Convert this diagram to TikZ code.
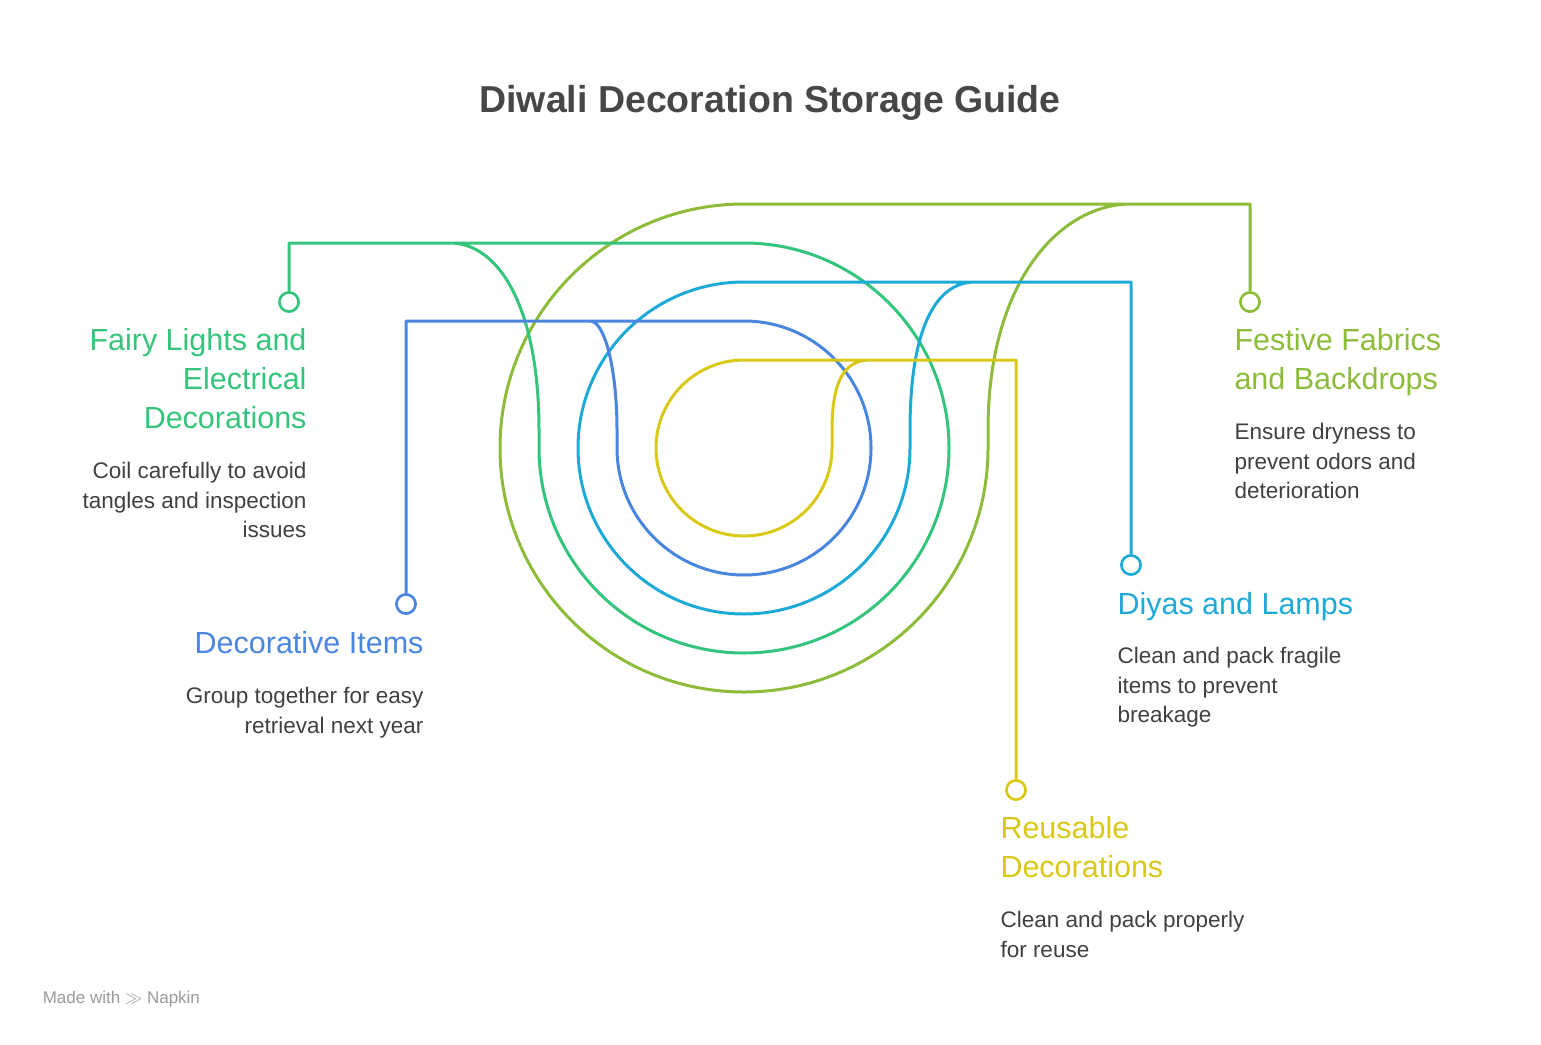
\documentclass[tikz,border=0pt]{standalone}
\usepackage{fontspec}
\setmainfont{Liberation Sans}
\begin{document}
\begin{tikzpicture}[x=1pt,y=-1pt,line width=3pt,
  mk/.style={circle,draw,fill=white,line width=2.5pt,minimum size=19pt,inner sep=0pt},
  hd/.style={font=\fontsize{30.5}{39}\selectfont,inner sep=0pt},
  bd/.style={font=\fontsize{22.5}{29.5}\selectfont,text=black!75,inner sep=0pt}]
\definecolor{cg}{HTML}{35C47C}\definecolor{cb}{HTML}{4A86E0}
\definecolor{cc}{HTML}{1EAAD6}\definecolor{cy}{HTML}{D9C818}
\definecolor{co}{HTML}{8DBB3A}
\useasboundingbox (0,0) rectangle (1541,1044);
\node[font=\bfseries\fontsize{37.5}{40}\selectfont,text=black!72] (t) at (770,103) {Diwali Decoration Storage Guide};
\node[mk,draw=co] (mo) at (1250,302) {};
\node[mk,draw=cg] (mg) at (289,302) {};
\node[mk,draw=cc] (mc) at (1131,565) {};
\node[mk,draw=cb] (mb) at (406,604) {};
\node[mk,draw=cy] (my) at (1016,790) {};
\begin{scope}[line join=round]
\draw[co] (mo.north) -- (1250,204) -- (744,204) arc[start angle=-90,end angle=-360,radius=244] -- ++(0,-18) .. controls +(0,-150) and +(-70,0) .. (1131,204);
\draw[cg] (mg.north) -- (289,243) -- (744,243) arc[start angle=-90,end angle=180,radius=205] -- ++(0,-18) .. controls +(0,-120) and +(50,0) .. (450,243);
\draw[cc] (mc.north) -- (1131,282) -- (744,282) arc[start angle=-90,end angle=-360,radius=166] -- ++(0,-18) .. controls +(0,-100) and +(-40,0) .. (975,282);
\draw[cb] (mb.north) -- (406,321) -- (744,321) arc[start angle=-90,end angle=180,radius=127] -- ++(0,-18) .. controls +(0,-60) and +(15,0) .. (590,321);
\draw[cy] (my.north) -- (1016,360) -- (744,360) arc[start angle=-90,end angle=-360,radius=88] -- ++(0,-18) .. controls +(0,-50) and +(-25,0) .. (870,360);
\end{scope}
\node[mk,draw=co] at (mo) {};
\node[mk,draw=cg] at (mg) {};
\node[mk,draw=cc] at (mc) {};
\node[mk,draw=cb] at (mb) {};
\node[mk,draw=cy] at (my) {};
\node[hd,text=cg,align=right,anchor=north east] (h1) at (308,327) {Fairy Lights and\\Electrical\\Decorations};
\node[bd,align=right,anchor=north east] (b1) at (308,461) {Coil carefully to avoid\\tangles and inspection\\issues};
\node[hd,text=cb,align=right,anchor=north east] (h2) at (425,630) {Decorative Items};
\node[bd,align=right,anchor=north east] (b2) at (425,686) {Group together for easy\\retrieval next year};
\node[hd,text=co,align=left,anchor=north west] (h3) at (1233,327) {Festive Fabrics\\and Backdrops};
\node[bd,align=left,anchor=north west] (b3) at (1233,422) {Ensure dryness to\\prevent odors and\\deterioration};
\node[hd,text=cc,align=left,anchor=north west] (h4) at (1116,591) {Diyas and Lamps};
\node[bd,align=left,anchor=north west] (b4) at (1116,646) {Clean and pack fragile\\items to prevent\\breakage};
\node[hd,text=cy,align=left,anchor=north west] (h5) at (999,815) {Reusable\\Decorations};
\node[bd,align=left,anchor=north west] (b5) at (999,910) {Clean and pack properly\\for reuse};
\node[font=\fontsize{17}{18}\selectfont,text=black!40,anchor=west] (nap) at (38,999) {Made with $\gg$ Napkin};
\end{tikzpicture}
\end{document}
